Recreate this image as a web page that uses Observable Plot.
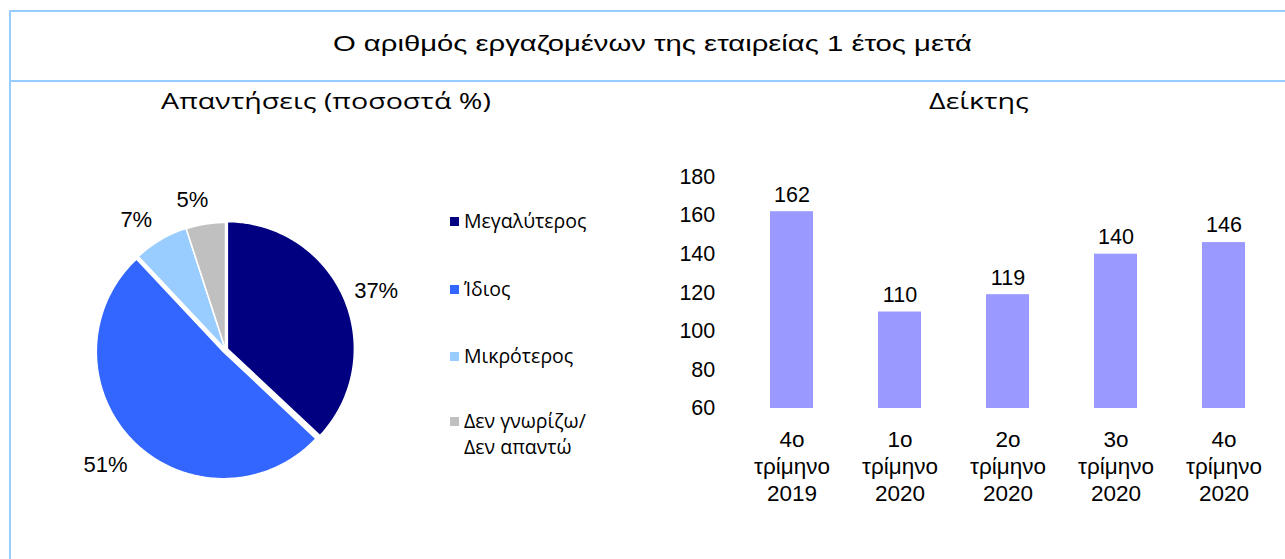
<!DOCTYPE html>
<html>
<head>
<meta charset="utf-8">
<script src="https://cdn.jsdelivr.net/npm/d3@7"></script>
<script src="https://cdn.jsdelivr.net/npm/@observablehq/plot@0.6"></script>
<style>
  html, body { margin: 0; padding: 0; background: #fff; }
  body { width: 1285px; height: 559px; overflow: hidden; position: relative; font-family: "Liberation Sans", Arial, sans-serif; color: #000; }
  .abs { position: absolute; }
  #frame { left: 9px; top: 10px; width: 1400px; height: 700px; border-left: 2px solid #99CCFF; border-top: 2px solid #99CCFF; }
  #sep { left: 9px; top: 80px; width: 1400px; height: 2px; background: #99CCFF; }
  #title { left: 0; width: 1305px; top: 30px; text-align: center; font-size: 22.5px; line-height: 28px; white-space: nowrap; transform: scaleX(1.3); transform-origin: 50% 50%; }
  .sub { font-family: "Open Sans", "Noto Sans", sans-serif; font-size: 22px; line-height: 30px; text-align: center; white-space: nowrap; transform: scaleX(1.3); transform-origin: 50% 50%; }
  #sub1 { left: 126px; width: 400px; top: 85px; }
  #sub2 { left: 879px; width: 200px; top: 85px; }
  .leg { font-family: "Open Sans", "Noto Sans", sans-serif; font-size: 19.5px; line-height: 26px; white-space: nowrap; }
  .sw { width: 9px; height: 9px; }
  svg { overflow: visible; }
</style>
</head>
<body>
<div id="frame" class="abs"></div>
<div id="sep" class="abs"></div>
<div id="title" class="abs">Ο αριθμός εργαζομένων της εταιρείας 1 έτος μετά</div>
<div id="sub1" class="abs sub">Απαντήσεις (ποσοστά %)</div>
<div id="sub2" class="abs sub">Δείκτης</div>
<div id="pie" class="abs" style="left:0;top:130px;"></div>
<div id="legend" class="abs" style="left:0;top:0;"></div>
<div id="bars" class="abs" style="left:640px;top:150px;"></div>
<script>
// ---- Data ----
const answerCategories = ["Μεγαλύτερος", "Ίδιος", "Μικρότερος", "Δεν γνωρίζω/\nΔεν απαντώ"];
const answerShares = [37, 51, 7, 5];
const answerColors = ["#000080", "#3366FF", "#99CCFF", "#C0C0C0"];

const quarterLabels = ["4ο\nτρίμηνο\n2019", "1ο\nτρίμηνο\n2020", "2ο\nτρίμηνο\n2020", "3ο\nτρίμηνο\n2020", "4ο\nτρίμηνο\n2020"];
const indexValues = [162, 110, 119, 140, 146];
const indexTicks = [60, 80, 100, 120, 140, 160, 180];
const barColor = "#9999FF";

// ---- Pie (built from d3.pie, drawn with Plot marks) ----
const R = 127, PW = 450, PH = 400, CX = 225, CY = 219;
const labelFont = 22;
const pieRows = answerCategories.map((c, i) => ({category: c, value: answerShares[i]}));
const arcs = d3.pie().sort(null).value(d => d.value)(pieRows);
const explode = [0.016, 0.024, 0.004, 0];
const labelNudge = [0.04, 0.02, -0.07, -0.06];   // small angular nudges (radians) like Excel's best-fit labels
const labelGap = [10, 16, 12, 12];
const piePoints = [];
const pieLabels = [];
arcs.forEach((a, i) => {
  const mid = (a.startAngle + a.endAngle) / 2;
  const ox = Math.sin(mid) * explode[i], oy = Math.cos(mid) * explode[i];
  const c = a.data.category;
  piePoints.push({category: c, x: ox, y: oy});
  const steps = Math.max(4, Math.ceil((a.endAngle - a.startAngle) / (Math.PI / 180)));
  for (let k = 0; k <= steps; k++) {
    const t = a.startAngle + (a.endAngle - a.startAngle) * k / steps;
    piePoints.push({category: c, x: ox + Math.sin(t), y: oy + Math.cos(t)});
  }
  piePoints.push({category: c, x: ox, y: oy});
  const txt = a.data.value + "%";
  const w = (String(a.data.value).length * 0.556 + 0.889) * labelFont;
  const h = labelFont;
  const ang = mid + labelNudge[i];
  const dist = (R + labelGap[i] + Math.abs(Math.sin(ang)) * w / 2 + Math.abs(Math.cos(ang)) * h / 2) / R;
  pieLabels.push({x: Math.sin(ang) * dist, y: Math.cos(ang) * dist, text: txt});
});

const pie = Plot.plot({
  width: PW, height: PH,
  margin: 0,
  x: {domain: [-CX / R, (PW - CX) / R], axis: null},
  y: {domain: [-(PH - CY) / R, CY / R], axis: null},
  color: {domain: answerCategories, range: answerColors},
  style: {fontFamily: "Liberation Sans, Arial, sans-serif", background: "transparent"},
  marks: [
    Plot.line(piePoints, {x: "x", y: "y", z: "category", fill: "category", stroke: "white", strokeWidth: 1.5, curve: "linear"}),
    Plot.text(pieLabels, {x: "x", y: "y", text: "text", fontSize: labelFont, fill: "black"})
  ]
});
document.getElementById("pie").appendChild(pie);

// ---- Legend (HTML) ----
const legendRows = [222, 290, 357, 422];
const legendEl = document.getElementById("legend");
answerCategories.forEach((c, i) => {
  const sw = document.createElement("div");
  sw.className = "abs sw";
  sw.style.left = "450px";
  sw.style.top = (legendRows[i] - 5) + "px";
  sw.style.background = answerColors[i];
  legendEl.appendChild(sw);
  const tx = document.createElement("div");
  tx.className = "abs leg";
  tx.style.left = "464px";
  tx.style.top = (legendRows[i] - 14) + "px";
  tx.innerHTML = c.replace("\n", "<br>");
  legendEl.appendChild(tx);
});

// ---- Bars ----
const barRows = quarterLabels.map((q, i) => ({quarter: q, value: indexValues[i]}));
const bars = Plot.plot({
  width: 645, height: 380,
  marginLeft: 96.75, marginRight: 5.75, marginTop: 26.5, marginBottom: 122,
  style: {fontFamily: "Liberation Sans, Arial, sans-serif", fontSize: "21px", background: "transparent", color: "black"},
  x: {domain: quarterLabels, paddingInner: 0.6, paddingOuter: 0.3, label: null},
  y: {domain: [60, 180], label: null},
  marks: [
    Plot.axisY({ticks: indexTicks, tickSize: 0, tickPadding: 22, fontSize: 21.5, label: null}),
    Plot.axisX({tickSize: 0, tickPadding: 19, fontSize: 22.5, lineHeight: 1.2, label: null}),
    Plot.barY(barRows, {x: "quarter", y1: 60, y2: "value", fill: barColor}),
    Plot.text(barRows, {x: "quarter", y: "value", text: d => String(d.value), dy: -17, fontSize: 21.5, fill: "black"})
  ]
});
document.getElementById("bars").appendChild(bars);
</script>
</body>
</html>
